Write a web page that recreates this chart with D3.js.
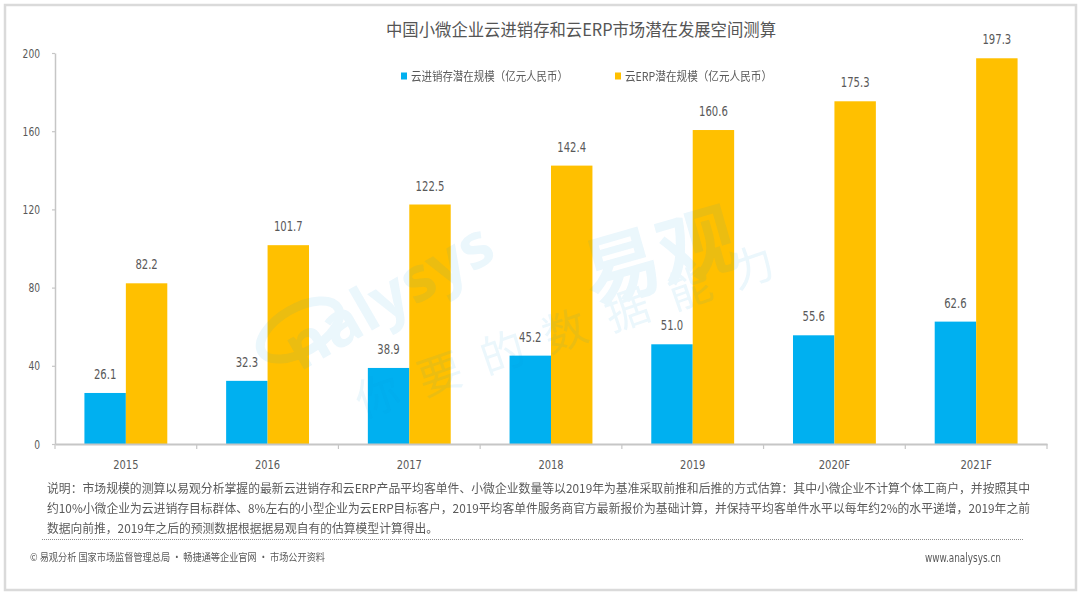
<!DOCTYPE html>
<html><head><meta charset="utf-8">
<script src="https://cdn.jsdelivr.net/npm/d3@7/dist/d3.min.js"></script>
<style>
body{margin:0;background:#fff;}
svg{display:block;}
</style>
</head><body>
<svg id="chart" width="1080" height="592"></svg>
<script>
// ---- data ----
const categories = ["2015","2016","2017","2018","2019","2020F","2021F"];
const seriesNames = ["云进销存潜在规模（亿元人民币）","云ERP潜在规模（亿元人民币）"];
const jxcValues = [26.1,32.3,38.9,45.2,51.0,55.6,62.6];
const erpValues = [82.2,101.7,122.5,142.4,160.6,175.3,197.3];
const yTicks = [0,40,80,120,160,200];
const titleText = "中国小微企业云进销存和云ERP市场潜在发展空间测算";
const noteLines = [
  "说明：市场规模的测算以易观分析掌握的最新云进销存和云ERP产品平均客单件、小微企业数量等以2019年为基准采取前推和后推的方式估算：其中小微企业不计算个体工商户，并按照其中",
  "约10%小微企业为云进销存目标群体、8%左右的小型企业为云ERP目标客户，2019平均客单件服务商官方最新报价为基础计算，并保持平均客单件水平以每年约2%的水平递增，2019年之前",
  "数据向前推，2019年之后的预测数据根据据易观自有的估算模型计算得出。"
];
const sourceText = "© 易观分析 国家市场监督管理总局 · 畅捷通等企业官网 · 市场公开资料";
const siteText = "www.analysys.cn";

// ---- style ----
const colors = ["#00B0F0","#FFC000"];
const cjk = "'Noto Sans CJK SC','Noto Sans',sans-serif";
const num = "'Liberation Sans Narrow','DejaVu Sans Condensed','Roboto','Noto Sans',sans-serif";
const textGrey = "#595959";
const axisGrey = "#c6c6c6";
// narrow-number width helper (condensed look)
const narrowW = (s, dw) => Array.from(s).reduce((a,c)=>a + (c==="." ? dw*0.5 : dw), 0);

const svg = d3.select("#chart");

// outer frame
svg.append("rect").attr("x",5).attr("y",5).attr("width",1071).attr("height",585)
  .attr("fill","#fff").attr("stroke","#dadada").attr("stroke-width",2.5);

// scales
const x = d3.scaleBand().domain(categories).range([55,1047]).padding(0);
const x1 = d3.scaleBand().domain([0,1]).range([0,x.bandwidth()]).paddingInner(0).paddingOuter(0.71);
const y = d3.scaleLinear().domain([0,200]).range([444,53]);

// title
svg.append("text").attr("x",581).attr("y",36).attr("text-anchor","middle")
  .attr("font-family",cjk).attr("font-size",17.5).attr("fill","#555")
  .attr("textLength",390).attr("lengthAdjust","spacingAndGlyphs").text(titleText);

// y axis
const yAxis = svg.append("g").attr("transform","translate(55,0)")
  .call(d3.axisLeft(y).tickValues(yTicks).tickSize(3).tickPadding(12).tickSizeOuter(0));
yAxis.select(".domain").attr("stroke",axisGrey).attr("stroke-width",1.5);
yAxis.selectAll(".tick line").attr("stroke",axisGrey).attr("stroke-width",1.2);
yAxis.selectAll(".tick text").attr("font-family",num).attr("font-size",12.5).attr("fill",textGrey)
  .attr("textLength",d=>narrowW(String(d),5.8)).attr("lengthAdjust","spacingAndGlyphs");

// bars
const series = [jxcValues, erpValues];
const groups = svg.append("g");
series.forEach((vals,si)=>{
  groups.selectAll(".bar"+si).data(vals).join("rect")
    .attr("class","bar"+si)
    .attr("x",(d,i)=>x(categories[i])+x1(si))
    .attr("width",x1.bandwidth())
    .attr("y",d=>y(d))
    .attr("height",d=>y(0)-y(d))
    .attr("fill",colors[si]);
});

// watermark (faint, over bars like the reference)
const wm = svg.append("g").attr("opacity",0.08).attr("fill","#0096DB").attr("pointer-events","none");
wm.append("ellipse").attr("cx",300).attr("cy",330).attr("rx",44).attr("ry",22)
  .attr("transform","rotate(-30,300,330)").attr("fill","none").attr("stroke","#0096DB").attr("stroke-width",9);
wm.append("text").attr("transform","translate(300,372) rotate(-30)")
  .attr("font-family","'Open Sans','DejaVu Sans',sans-serif").attr("font-size",62).attr("font-weight",700)
  .text("nalysys");
wm.append("text").attr("transform","translate(592,305) rotate(-16)")
  .attr("font-family",cjk).attr("font-size",78).attr("font-weight",700).text("易观");
wm.append("text").attr("transform","translate(362,418) rotate(-19)")
  .attr("font-family",cjk).attr("font-size",44).attr("letter-spacing",22).text("你要的数据能力");

// value labels
series.forEach((vals,si)=>{
  groups.selectAll(".lab"+si).data(vals).join("text")
    .attr("class","lab"+si)
    .attr("x",(d,i)=>x(categories[i])+x1(si)+x1.bandwidth()/2)
    .attr("y",d=>y(d)-14)
    .attr("text-anchor","middle")
    .attr("font-family",num).attr("font-size",13.5).attr("fill",textGrey)
    .attr("textLength",d=>narrowW(d.toFixed(1),6.4)).attr("lengthAdjust","spacingAndGlyphs")
    .text(d=>d.toFixed(1));
});

// x axis
const xAxis = svg.append("g").attr("transform","translate(0,444)")
  .call(d3.axisBottom(x).tickSize(0).tickPadding(16).tickSizeOuter(0));
xAxis.select(".domain").attr("stroke",axisGrey).attr("stroke-width",2);
xAxis.selectAll(".tick text").attr("font-family",num).attr("font-size",12.5).attr("fill",textGrey)
  .attr("textLength",d=>narrowW(d,6.3)).attr("lengthAdjust","spacingAndGlyphs");
const bounds = categories.map(c=>x(c)).concat([x.range()[1]]);
xAxis.selectAll(".bound").data(bounds).join("line").attr("class","bound")
  .attr("x1",d=>d).attr("x2",d=>d).attr("y1",0).attr("y2",5)
  .attr("stroke",axisGrey).attr("stroke-width",1.2);

// legend
const legendX = [401, 615];
const legendW = [157, 147];
seriesNames.forEach((n,i)=>{
  svg.append("rect").attr("x",legendX[i]).attr("y",72.5).attr("width",6).attr("height",7).attr("fill",colors[i]);
  svg.append("text").attr("x",legendX[i]+10).attr("y",80.5)
    .attr("font-family",cjk).attr("font-size",12).attr("fill",textGrey)
    .attr("textLength",legendW[i]).attr("lengthAdjust","spacingAndGlyphs").text(n);
});

// notes
const noteW = [983, 983, 391];
const noteY = [493, 513, 533];
noteLines.forEach((t,i)=>{
  svg.append("text").attr("x",47).attr("y",noteY[i])
    .attr("font-family",cjk).attr("font-size",12).attr("fill",textGrey)
    .attr("textLength",noteW[i]).attr("lengthAdjust","spacingAndGlyphs").text(t);
});

// dotted separator
svg.append("line").attr("x1",42).attr("x2",1024).attr("y1",539.5).attr("y2",539.5)
  .attr("stroke","#8c8c8c").attr("stroke-width",1).attr("stroke-dasharray","1,1");

// source & site
svg.append("text").attr("x",30).attr("y",561)
  .attr("font-family",cjk).attr("font-size",10.5).attr("fill",textGrey)
  .attr("textLength",295).attr("lengthAdjust","spacingAndGlyphs").text(sourceText);
svg.append("text").attr("x",1001).attr("y",562).attr("text-anchor","end")
  .attr("font-family",num).attr("font-size",11.5).attr("fill",textGrey)
  .attr("textLength",76).attr("lengthAdjust","spacingAndGlyphs").text(siteText);
</script>
</body></html>
